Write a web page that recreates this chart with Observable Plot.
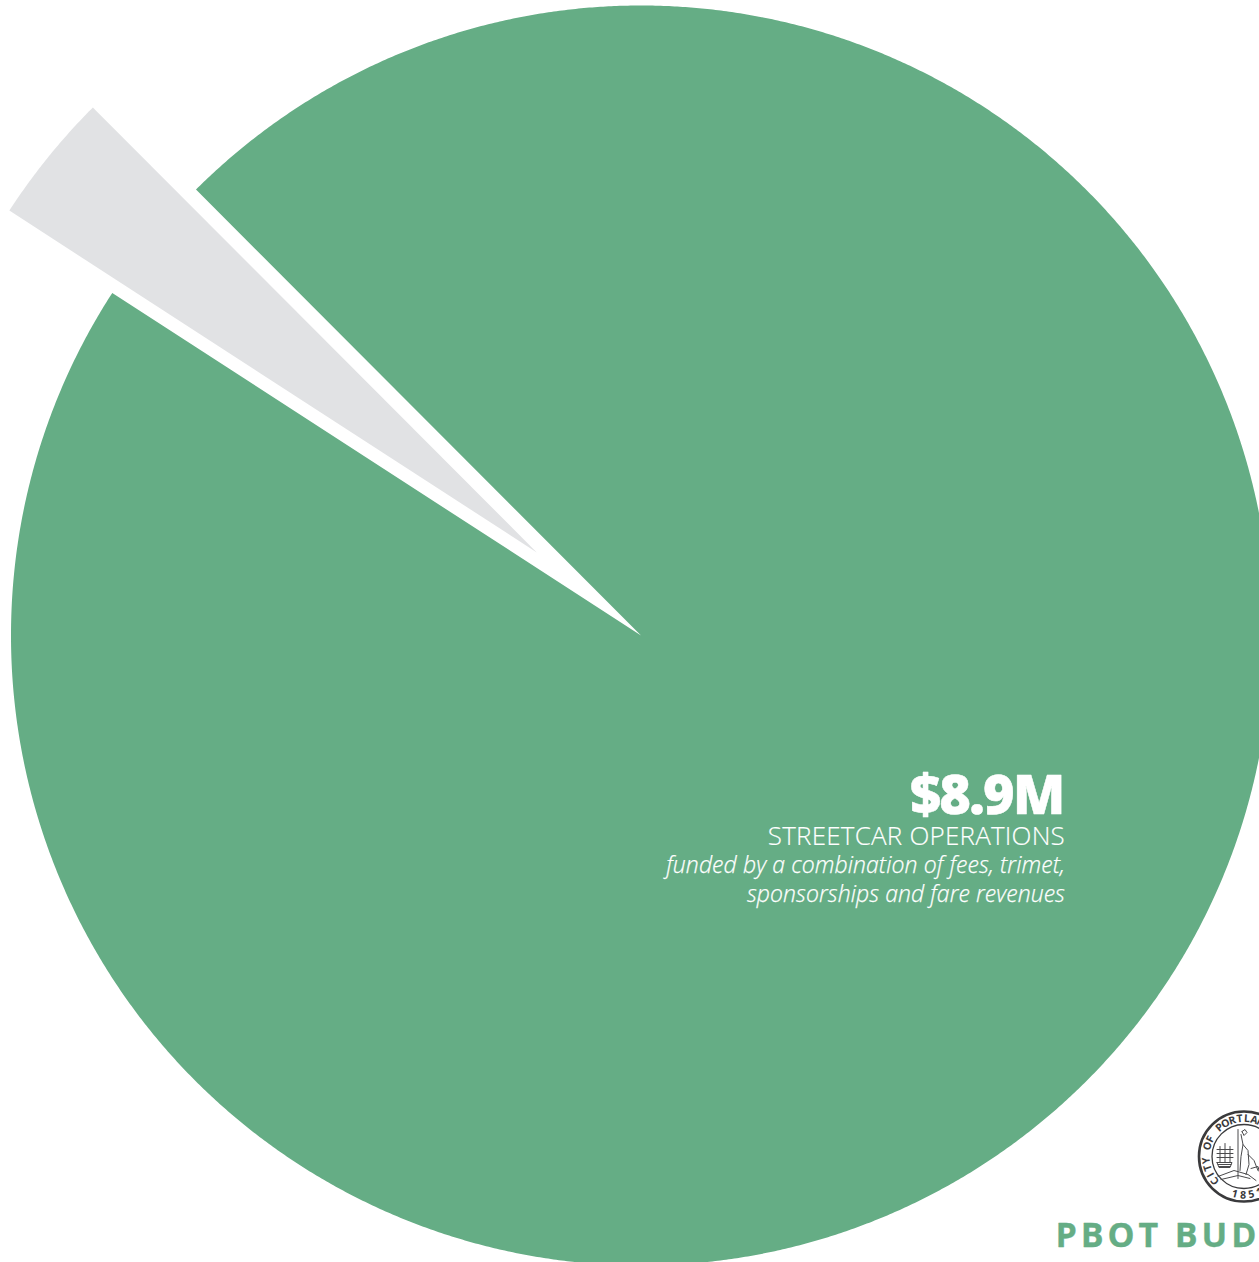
<!DOCTYPE html>
<html>
<head>
<meta charset="utf-8">
<script src="https://cdn.jsdelivr.net/npm/d3@7"></script>
<script src="https://cdn.jsdelivr.net/npm/@observablehq/plot@0.6"></script>
<style>
  html, body { margin: 0; padding: 0; background: #fff; overflow: hidden; }
  svg { display: block; }
</style>
</head>
<body>
<div id="chart"></div>
<script>
// Budget shares, in $M
const sliceNames = ["Streetcar operations", "Other"];
const sliceValues = [8.9, 0.31];
const sliceColors = ["#65ad85", "#e1e2e4"];

// Callout text, one row per line
const labelLines = ["$8.9M", "STREETCAR OPERATIONS", "funded by a combination of fees, trimet,", "sponsorships and fare revenues"];
const labelBaselines = [813, 844, 872, 901];
const labelSizes = [54, 26, 23, 23];
const labelWeights = [800, 300, 300, 300];
const labelStyles = ["normal", "normal", "italic", "italic"];
const labelSpacing = ["-0.032em", "0.008em", "0.004em", "0.003em"];
const labelOutline = [0.5, 0.15, 0.25, 0.25];
const labelNudge = [-1.5, 0, 0, 0];

const seriesFont = "'Open Sans', sans-serif";
const width = 1259, height = 1262;
const center = [640.5, 635];
const radius = [630, 628.5];
// The small slice is pulled out of the pie along its own bisector
const explode = [[0, 0], [-104.2, -83.1]];
const startDeg = 315.06;

// Slice outlines from the pie layout; the arc edge is traced in small steps
const pie = d3.pie().sort(null).value(d => d)
  .startAngle(startDeg * Math.PI / 180)
  .endAngle((startDeg + 360) * Math.PI / 180);
const outlines = pie(sliceValues).flatMap((a, i) => {
  const cx = center[0] + explode[i][0];
  const cy = center[1] + explode[i][1];
  const n = Math.ceil((a.endAngle - a.startAngle) / (Math.PI / 720));
  const rim = d3.range(n + 1).map(k => {
    const t = a.startAngle + (a.endAngle - a.startAngle) * k / n;
    return {name: sliceNames[i], x: cx + radius[i] * Math.sin(t), y: cy - radius[i] * Math.cos(t)};
  });
  return [{name: sliceNames[i], x: cx, y: cy}, ...rim, {name: sliceNames[i], x: cx, y: cy}];
});

const labelRows = labelLines.map((text, i) => ({
  text, y: labelBaselines[i], size: labelSizes[i], weight: labelWeights[i],
  style: labelStyles[i], spacing: labelSpacing[i], outline: labelOutline[i], nudge: labelNudge[i]
}));

// City seal, lower right
const sealCenter = [1243.5, 1156];
const sealRings = [{r: 45, w: 2.6}, {r: 32, w: 1.3}];
const sealTop = "CITY OF PORTLAND";
const sealYear = "1851";
const polar = (deg, r) => [sealCenter[0] + r * Math.sin(deg * Math.PI / 180), sealCenter[1] - r * Math.cos(deg * Math.PI / 180)];
const sealLetters = [
  ...Array.from(sealTop).map((ch, i) => {
    const deg = -130 + i * 11.2;
    const [x, y] = polar(deg, 34.5);
    return {ch, x, y, rotate: deg};
  }),
  ...Array.from(sealYear).map((ch, i) => {
    const deg = 194 - i * 12.5;
    const [x, y] = polar(deg, 42);
    return {ch, x, y, rotate: deg - 180};
  })
];
// Ship and standing figure inside the seal, offsets from its centre
const sealStrokes = [
  [[-27, 6], [-12, 6], [-14, 11], [-25, 11], [-27, 6]],
  [[-26, 8], [-13, 8]], [[-25, 10], [-14, 10]],
  [[-24, -10], [-24, 6]], [[-19, -13], [-19, 6]], [[-14, -10], [-14, 6]],
  [[-27, -7], [-11, -7]], [[-27, -3], [-11, -3]], [[-27, 1], [-11, 1]],
  [[-6, -27], [-6, 22]], [[-3, -22], [-1, -12], [-3, 0], [-4, 14]],
  [[-1, -12], [4, -6], [5, 8], [2, 18]], [[-2, -25], [1, -27], [3, -24], [0, -21], [-2, -25]],
  [[-26, 20], [-10, 14], [4, 18], [12, 24]], [[-23, 23], [-6, 19], [6, 22]],
  [[4, -2], [10, 4], [14, 14]], [[7, 12], [14, 10], [16, 18]]
];
const sealPaths = sealStrokes.flatMap((s, id) => s.map(([dx, dy]) => ({id, x: sealCenter[0] + dx, y: sealCenter[1] + dy})));

const chart = Plot.plot({
  width, height,
  margin: 0,
  style: {background: "#fff", fontFamily: seriesFont},
  x: {domain: [0, width], range: [0, width], axis: null},
  y: {domain: [0, height], range: [0, height], axis: null},
  r: {type: "identity"},
  color: {domain: sliceNames, range: sliceColors},
  marks: [
    Plot.line(outlines, {x: "x", y: "y", z: "name", fill: "name", stroke: "none", curve: "linear"}),
    ...labelRows.map((d, i) => Plot.text([d], {
      x: () => 1064.5 + d.nudge, y: "y", text: "text", textAnchor: "end", lineAnchor: "bottom",
      fill: "#fff", stroke: "#fff", strokeWidth: d.outline,
      fontSize: d.size, fontWeight: d.weight, fontStyle: d.style,
      fontFamily: seriesFont, className: `callout-${i}`
    })),
    ...sealRings.map(d => Plot.dot([d], {
      x: () => sealCenter[0], y: () => sealCenter[1], r: "r",
      stroke: "#3a3a3c", strokeWidth: d.w, fill: "none"
    })),
    Plot.line(sealPaths, {x: "x", y: "y", z: "id", stroke: "#4a4a4c", strokeWidth: 1, curve: "linear"}),
    Plot.text(sealLetters, {
      x: "x", y: "y", text: "ch", rotate: "rotate", fill: "#3a3a3c",
      fontSize: 10.5, fontWeight: 700, fontFamily: seriesFont, textAnchor: "middle", lineAnchor: "bottom"
    }),
    Plot.text(["PBOT BUDGET"], {
      x: () => 1055, y: () => 1246, text: d => d, textAnchor: "start", lineAnchor: "bottom",
      fill: sliceColors[0], stroke: sliceColors[0], strokeWidth: 0.3, fontSize: 34, fontWeight: 700, fontFamily: seriesFont,
      className: "footer-name"
    })
  ]
});
// Tracking is not a Plot text option, so it goes on the drawn elements
labelSpacing.forEach((s, i) => d3.select(chart).selectAll(`.callout-${i} text`).style("letter-spacing", s));
d3.select(chart).selectAll(".footer-name text").style("letter-spacing", "0.115em");
document.getElementById("chart").append(chart);
</script>
</body>
</html>
